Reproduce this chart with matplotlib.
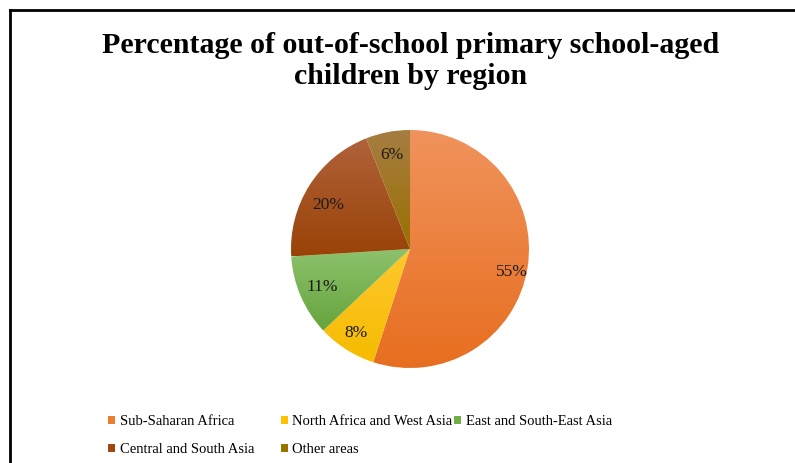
import matplotlib.pyplot as plt
import matplotlib.colors as mcolors
import numpy as np
from matplotlib.patches import Rectangle
from matplotlib.lines import Line2D

plt.rcParams['font.family'] = ['Liberation Serif', 'DejaVu Serif']

# Data
regions = ['Sub-Saharan Africa', 'North Africa and West Asia', 'East and South-East Asia',
           'Central and South Asia', 'Other areas']
shares = [55, 8, 11, 20, 6]
title = 'Percentage of out-of-school primary school-aged\nchildren by region'

# base colours (legend) and gradient top/bottom for each slice
base_colors = ['#ED7D31', '#FFC000', '#70AD47', '#9E480E', '#997300']
top_colors = ['#F0935C', '#FFC72E', '#8DC26C', '#B0623A', '#A67D42']
bottom_colors = ['#E76E1F', '#F5BC00', '#66A43D', '#9A4308', '#9A7000']

fig = plt.figure(figsize=(7.95, 4.63), dpi=100)

# frame lines (top and left visible only)
fig.add_artist(Line2D([10 / 795, 1], [1 - 10 / 463, 1 - 10 / 463], color='black', lw=2,
                      transform=fig.transFigure))
fig.add_artist(Line2D([10 / 795, 10 / 795], [0, 1 - 10 / 463], color='black', lw=2,
                      transform=fig.transFigure))

fig.text(0.516, 1 - 61 / 463, title, ha='center', va='center', fontsize=21.5,
         fontweight='bold', linespacing=1.2)

cx, cy, r = 410, 249, 119
ax = fig.add_axes([(cx - r) / 795, (463 - cy - r) / 463, 2 * r / 795, 2 * r / 463])

wedges, texts, autotexts = ax.pie(shares, startangle=90, counterclock=False,
                                  colors=base_colors, autopct='%d%%', pctdistance=0.8,
                                  radius=1.0, wedgeprops=dict(linewidth=0),
                                  textprops=dict(fontsize=12.5, color='#1a1a1a'))


def nudge(t, dang, dist):
    x, y = t.get_position()
    ang = np.arctan2(y, x) + np.deg2rad(dang)
    t.set_position((dist * np.cos(ang), dist * np.sin(ang)))


nudge(autotexts[0], -3.5, 0.88)
nudge(autotexts[1], 0, 0.84)
nudge(autotexts[3], 4, 0.78)

# gradient fill clipped to each wedge
for w, c_top, c_bot in zip(wedges, top_colors, bottom_colors):
    verts = w.get_patch_transform().transform(w.get_path().vertices)
    y0, y1 = verts[:, 1].min(), verts[:, 1].max()
    x0, x1 = verts[:, 0].min(), verts[:, 0].max()
    cmap = mcolors.LinearSegmentedColormap.from_list('g', [c_bot, c_top])
    grad = np.linspace(0, 1, 256).reshape(-1, 1)
    im = ax.imshow(grad, cmap=cmap, origin='lower', extent=[x0, x1, y0, y1],
                   aspect='auto', zorder=w.get_zorder() + 0.1, interpolation='bilinear')
    im.set_clip_path(w)
    w.set_facecolor('none')
    w.set_zorder(w.get_zorder() + 0.2)

for t in autotexts:
    t.set_zorder(5)

ax.set_xlim(-1.0, 1.0)
ax.set_ylim(-1.0, 1.0)
ax.set_aspect('equal')
ax.axis('off')

# legend: three columns, filled row by row
handles = [Rectangle((0, 0), 1, 1, facecolor=c) for c in base_colors]
columns = [[0, 3], [1, 4], [2]]
col_x = [102, 275, 448]
for idx, xpix in zip(columns, col_x):
    fig.legend([handles[i] for i in idx], [regions[i] for i in idx],
               loc='upper left', bbox_to_anchor=(xpix / 795, 1 - 409 / 463),
               frameon=False, fontsize=10.5, handlelength=0.5, handleheight=0.5,
               handletextpad=0.3, labelspacing=1.05, borderaxespad=0)

fig.savefig('out.png', dpi=100)
